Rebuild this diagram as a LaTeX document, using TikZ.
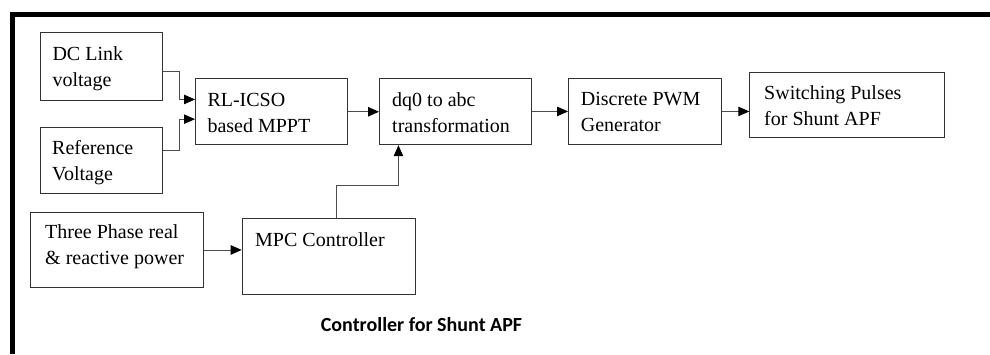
\documentclass[tikz,border=0pt]{standalone}
\usepackage{fontspec}
\setmainfont{Liberation Serif}
\newfontfamily\capfont{Carlito}
\usetikzlibrary{arrows.meta,positioning}

\tikzset{
  blk/.style={draw=black!80, line width=0.9pt, anchor=north west, inner sep=0pt},
  lbl/.style={anchor=north west, inner sep=0pt, align=left, font=\fontsize{20}{26}\selectfont},
  conn/.style={draw=black!70, line width=0.9pt, -{Triangle[length=11pt,width=9.5pt,color=black]}}
}

\begin{document}
\begin{tikzpicture}[x=1pt,y=-1pt]
    \useasboundingbox (0,0) rectangle (990,354);
    % frame, top and left only
    \draw[line width=5.3pt] (12.2,354) -- (12.2,14.7) -- (990,14.7);
    % blocks
    \node[blk, minimum width=122, minimum height=68] (dclink) at (40,32) {};
    \node[blk, minimum width=122, minimum height=66] (vref) at (40,126.7) {};
    \node[blk, minimum width=152, minimum height=66] (mppt) at (195,78.3) {};
    \node[blk, minimum width=152, minimum height=66.6] (dqabc) at (379,77.7) {};
    \node[blk, minimum width=153, minimum height=66.6] (pwm) at (568,77.7) {};
    \node[blk, minimum width=195, minimum height=65.3] (pulses) at (749.3,72) {};
    \node[blk, minimum width=172.7, minimum height=74.4] (power) at (30,212.3) {};
    \node[blk, minimum width=173.6, minimum height=76] (mpc) at (241.7,218.3) {};
    % texts in the blocks
    \foreach \b/\dx/\dy/\t in {dclink/12.3/14.7/{DC Link\\voltage},
        vref/12/13.3/{Reference\\Voltage},
        mppt/12.3/15/{RL-ICSO\\based MPPT},
        dqabc/13/14.6/{dq0 to abc\\transformation},
        pwm/12.7/14.6/{Discrete PWM\\Generator},
        pulses/14.7/13/{Switching Pulses\\for Shunt APF},
        power/15/12/{Three Phase real\\\& reactive power},
        mpc/13.3/14.4/{MPC Controller}} {
        \node[lbl] (\b txt) at ([shift={(\dx,\dy)}]\b.north west) {\t};
    }
    % connections
    \draw[conn] ([shift={(0,5)}]dclink.east) -- ++(17,0) |- ([shift={(0,-12.3)}]mppt.west);
    \draw[conn] ([shift={(0,-9.4)}]vref.east) -- ++(17,0) |- ([shift={(0,7.4)}]mppt.west);
    \draw[conn] (mppt.east) -- (mppt.east -| dqabc.west);
    \draw[conn] (dqabc.east) -- (dqabc.east -| pwm.west);
    \draw[conn] (pwm.east) -- (pwm.east -| pulses.west);
    \draw[conn] (power.east) -- (power.east -| mpc.west);
    \draw[conn] ([xshift=7.5pt]mpc.north) -- ++(0,-33.3) -| ([xshift=-57pt]dqabc.south);
    % caption
    \node[font=\capfont\bfseries\fontsize{20}{24}\selectfont, anchor=base] (caption) at (421.5,331.7) {Controller for Shunt APF};
\end{tikzpicture}
\end{document}
